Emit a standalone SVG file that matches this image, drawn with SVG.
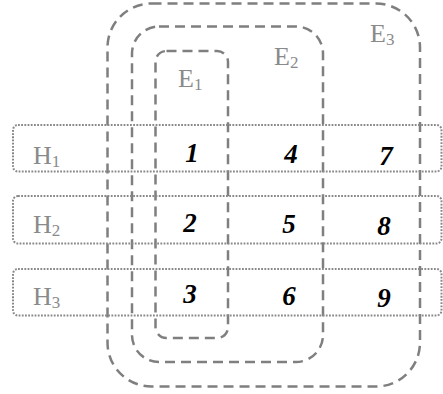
<svg xmlns="http://www.w3.org/2000/svg" width="443" height="394" viewBox="0 0 443 394">
<style>
.e{fill:none;stroke:#7f7f7f;stroke-width:2.5;stroke-dasharray:10 6}
.h{fill:none;stroke:#888;stroke-width:2;stroke-dasharray:1.8 1.4}
.lbl{font-family:"Liberation Serif","Times New Roman",serif;font-size:26px;fill:#8a8a8a}
.sub{font-size:17px}
.n{font-family:"Liberation Serif","Times New Roman",serif;font-size:27px;font-weight:bold;font-style:italic;fill:#000;text-anchor:middle}
</style>
<rect width="443" height="394" fill="#fff"/>
<g id="connectors"></g>
<g id="E3"><rect class="e" x="107.5" y="3.5" width="312.5" height="383" rx="44"/><text class="lbl" x="370" y="42">E<tspan class="sub" dy="3">3</tspan></text></g>
<g id="E2"><rect class="e" x="132" y="26.5" width="191" height="335.5" rx="27"/><text class="lbl" x="274" y="65">E<tspan class="sub" dy="3">2</tspan></text></g>
<g id="E1"><rect class="e" x="155.5" y="51" width="72.5" height="287" rx="11"/><text class="lbl" x="178" y="87">E<tspan class="sub" dy="3">1</tspan></text></g>
<g id="H1"><rect class="h" x="13" y="125" width="428.5" height="46.5" rx="5"/><text class="lbl" x="33" y="164">H<tspan class="sub" dy="3">1</tspan></text></g>
<g id="H2"><rect class="h" x="13" y="196" width="428.5" height="47.5" rx="5"/><text class="lbl" x="33" y="233">H<tspan class="sub" dy="3">2</tspan></text></g>
<g id="H3"><rect class="h" x="13" y="269" width="428.5" height="46.5" rx="5"/><text class="lbl" x="33" y="305">H<tspan class="sub" dy="3">3</tspan></text></g>
<g id="n1"><text class="n" x="192" y="161.5">1</text></g>
<g id="n4"><text class="n" x="291" y="163">4</text></g>
<g id="n7"><text class="n" x="386" y="165">7</text></g>
<g id="n2"><text class="n" x="190" y="232">2</text></g>
<g id="n5"><text class="n" x="289" y="232.5">5</text></g>
<g id="n8"><text class="n" x="384" y="235">8</text></g>
<g id="n3"><text class="n" x="190" y="303">3</text></g>
<g id="n6"><text class="n" x="289" y="305">6</text></g>
<g id="n9"><text class="n" x="384" y="307">9</text></g>
</svg>
